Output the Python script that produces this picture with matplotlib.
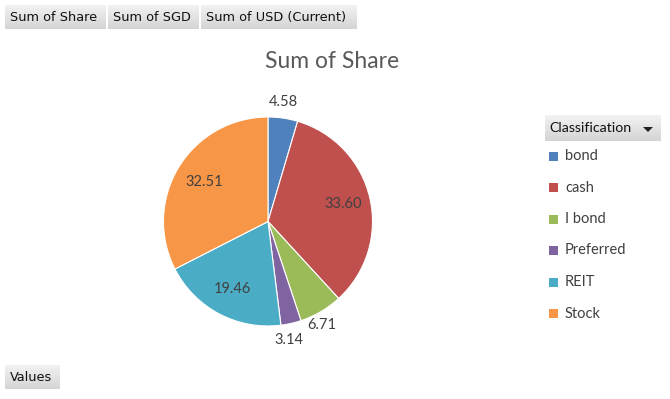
import numpy as np
import matplotlib
matplotlib.use("Agg")
import matplotlib.pyplot as plt
from matplotlib.patches import Rectangle, Polygon

categories = ["bond", "cash", "I bond", "Preferred", "REIT", "Stock"]
shares = [4.58, 33.60, 6.71, 3.14, 19.46, 32.51]
colors = ["#4F81BD", "#C0504D", "#9BBB59", "#8064A2", "#4BACC6", "#F79646"]
title = "Sum of Share"
top_buttons = ["Sum of Share", "Sum of SGD", "Sum of USD (Current)"]
legend_title = "Classification"
bottom_button = "Values"

W, H = 670, 399
fig = plt.figure(figsize=(W / 100, H / 100), dpi=100)
fig.patch.set_facecolor("white")

# overlay axes in pixel coordinates
ov = fig.add_axes([0, 0, 1, 1])
ov.set_xlim(0, W)
ov.set_ylim(H, 0)
ov.axis("off")

grad = np.linspace(0, 1, 64).reshape(-1, 1)
cmap = matplotlib.colors.LinearSegmentedColormap.from_list("btn", ["#f2f2f2", "#d4d4d4"])

def button(x0, x1, y0, y1, text, fs=9.5, tx=None, fam="DejaVu Sans"):
    ov.imshow(grad, cmap=cmap, extent=(x0, x1, y1, y0), aspect="auto", zorder=1)
    ov.text(tx if tx is not None else x0 + 5, (y0 + y1) / 2 + 0.5, text,
            fontsize=fs, family=fam, color="#111111",
            ha="left", va="center", zorder=2)

btn_edges = [(5, 106), (108, 199), (201, 357)]
for (x0, x1), t in zip(btn_edges, top_buttons):
    button(x0, x1, 5, 29, t, fs=9.3)
button(5, 60, 365, 389, bottom_button, fs=9.3)
button(545, 661, 115, 141, legend_title, fs=10.2, tx=549, fam="Lato")
ov.add_patch(Polygon([[643, 127], [653, 127], [648, 132]], closed=True,
                     facecolor="#222222", edgecolor="none", zorder=3))

# title
ov.text(332.5, 62, title, fontsize=16.5, family="Lato", color="#595959",
        ha="center", va="center")

# legend
leg_y0, leg_dy = 156, 31.5
for i, (c, col) in enumerate(zip(categories, colors)):
    y = leg_y0 + i * leg_dy
    ov.add_patch(Rectangle((549, y - 4.5), 9, 9, facecolor=col, edgecolor="none"))
    ov.text(565, y, c, fontsize=10.5, family="Lato", color="#404040",
            ha="left", va="center")

# pie
cx, cy, r = 268, 221.5, 104.5
pax = fig.add_axes([(cx - r) / W, (H - cy - r) / H, 2 * r / W, 2 * r / H])
wedges, _ = pax.pie(shares, colors=colors, startangle=90, counterclock=False,
                    radius=1.0, wedgeprops=dict(edgecolor="white", linewidth=0.8))
pax.set_xlim(-1, 1)
pax.set_ylim(-1, 1)
pax.axis("off")

label_r = [1.15, 0.74, 1.12, 1.15, 0.73, 0.72]
label_da = [1.0, 0, -3, -2.5, 0, 0]  # small angular nudges in degrees
for w, v, lr, da in zip(wedges, shares, label_r, label_da):
    ang = np.deg2rad((w.theta1 + w.theta2) / 2 + da)
    pax.text(lr * np.cos(ang), lr * np.sin(ang), f"{v:.2f}", fontsize=10.5,
             family="Lato", color="#404040", ha="center", va="center", clip_on=False)

fig.savefig("out.png", dpi=100, facecolor="white")
